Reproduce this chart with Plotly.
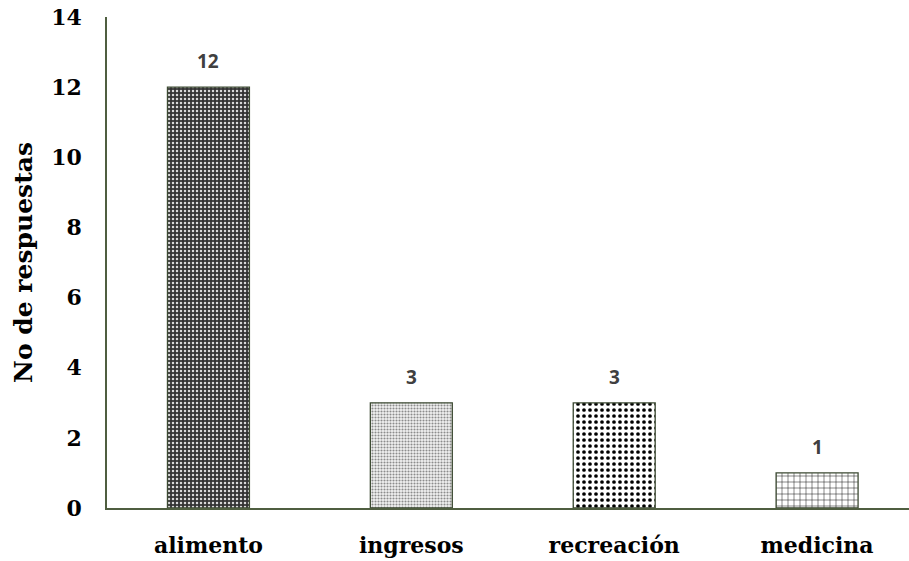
import plotly.graph_objects as go

categorias = ["alimento", "ingresos", "recreación", "medicina"]
respuestas = [12, 3, 3, 1]

# Fill pattern per bar: shape, background, foreground, size, solidity
patrones = {
    "shape": [".", ".", ".", "+"],
    "bgcolor": ["#333333", "#f2f2f2", "#ffffff", "#ffffff"],
    "fgcolor": ["#d9d9d9", "#8c8c8c", "#000000", "#000000"],
    "size": [4, 3, 6, 6],
    "solidity": [0.3, 0.4, 0.3, 0.15],
}

serif = "DejaVu Serif"

fig = go.Figure()
fig.add_trace(go.Bar(
    x=categorias,
    y=respuestas,
    width=0.404,
    marker=dict(
        color="#ffffff",
        line=dict(color="#3d4a33", width=1.3),
        pattern=dict(
            shape=patrones["shape"],
            bgcolor=patrones["bgcolor"],
            fgcolor=patrones["fgcolor"],
            size=patrones["size"],
            solidity=patrones["solidity"],
            fillmode="replace",
        ),
    ),
))

# Value labels above each bar
for cat, val in zip(categorias, respuestas):
    fig.add_annotation(
        x=cat, y=val, text=str(val), showarrow=False,
        yanchor="bottom", yshift=11,
        font=dict(family="Noto Sans", size=19, color="#404040", weight="bold"),
    )

fig.update_layout(
    width=909,
    height=561,
    margin=dict(l=107, r=0, t=17, b=53),
    paper_bgcolor="white",
    plot_bgcolor="white",
    showlegend=False,
    font=dict(family=serif, color="#000000"),
    xaxis=dict(
        range=[-0.5, 3.453],
        automargin=False,
        showgrid=False,
        showline=True,
        linecolor="#4f5e40",
        linewidth=1.5,
        ticks="",
        ticklabelstandoff=17,
        tickfont=dict(family=serif, size=22, color="#000000", weight="bold"),
    ),
    yaxis=dict(
        range=[0, 14],
        automargin=False,
        tickvals=[0, 2, 4, 6, 8, 10, 12, 14],
        showgrid=False,
        zeroline=False,
        showline=True,
        linecolor="#4f5e40",
        linewidth=1.5,
        ticks="",
        ticklabelstandoff=19,
        tickfont=dict(family=serif, size=22, color="#000000", weight="bold"),
        title=dict(
            text="No de respuestas",
            font=dict(family=serif, size=25, color="#000000", weight="bold"),
            standoff=11,
        ),
    ),
)

fig.write_html("out.html")
